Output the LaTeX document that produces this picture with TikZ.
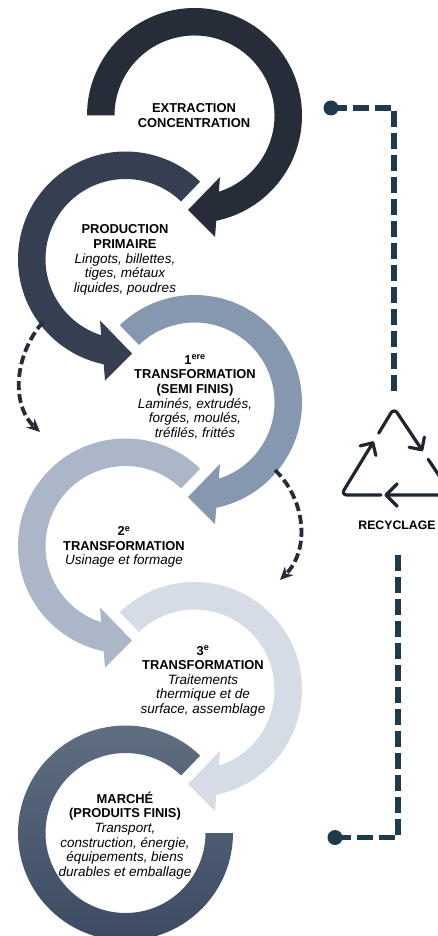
\documentclass[tikz,border=0pt]{standalone}
\usepackage{fontspec}
\setmainfont{Liberation Sans}
\usetikzlibrary{arrows.meta,calc}
\definecolor{cA}{HTML}{262C38}
\definecolor{cB}{HTML}{353F51}
\definecolor{cC}{HTML}{8697B0}
\definecolor{cD}{HTML}{ABB7C9}
\definecolor{cE}{HTML}{D5DCE6}
\definecolor{cFtop}{HTML}{627083}
\definecolor{cFbot}{HTML}{3A4861}
\definecolor{cRec}{HTML}{1F3A4A}
\definecolor{cIcon}{HTML}{1E262F}
\newcommand\myB[1]{{\fontsize{12.9}{14.6}\selectfont\bfseries #1}}
\newcommand\myI[1]{{\fontsize{13.5}{14.6}\selectfont\itshape #1}}
% right ring: clockwise from start angle #4, arrow at lower right
\newcommand\myringR[4]{%
  \fill[#3, shift={(#1,-#2)}] (#4:107.5) arc[start angle=#4, end angle=-78.3, radius=107.5]
    -- (20.5,-121.5) -- (-6.5,-94.5) -- (25.5,-61.5) -- (-72.3:80)
    arc[start angle=-72.3, end angle=#4, radius=80] -- cycle;}
% left ring: counter-clockwise from start angle #4, arrow at lower left
\newcommand\myringL[4]{%
  \fill[#3, shift={(#1,-#2)}] (#4:107.5) arc[start angle=#4, end angle=258.3, radius=107.5]
    -- (-20.5,-121.5) -- (6.5,-94.5) -- (-25.5,-61.5) -- (252.3:80)
    arc[start angle=252.3, end angle=#4, radius=80] -- cycle;}
\tikzset{
  txt/.style={align=center, inner sep=0pt, font=\fontsize{12.9}{14.6}\selectfont},
  dasharrow/.style={draw=cA, line width=3.8pt, dash pattern=on 9pt off 4pt,
    -{Stealth[length=13pt,width=12pt]}},
  recpath/.style={draw=cRec, line width=5.5pt, dash pattern=on 16pt off 6pt},
  icon/.style={draw=cIcon, line width=3.2pt, line cap=round, line join=round}
}
\begin{document}
\begin{tikzpicture}[x=1pt,y=1pt]
\useasboundingbox (0,0) rectangle (438,-936);
\clip (0,0) rectangle (438,-936);
\fill[white] (0,0) rectangle (438,-936);

% rings
\myringR{194.5}{115.5}{cA}{180}
\myringL{125.5}{259}{cB}{46}
\myringR{194.5}{402.5}{cC}{134}
\myringL{125.5}{546}{cD}{46}
\myringR{194.5}{689.5}{cE}{134}
\shade[top color=cFtop, bottom color=cFbot, shift={(125.5,-833)}]
  (46:107.5) arc[start angle=46, end angle=360, radius=107.5]
  -- (0:80) arc[start angle=360, end angle=46, radius=80] -- cycle;

% texts
\node[txt] (t1) at (194,-115.5) {\myB{EXTRACTION}\\\myB{CONCENTRATION}};
\node[txt] (t2) at (125,-260) {\myB{PRODUCTION}\\\myB{PRIMAIRE}\\\myI{Lingots, billettes,}\\\myI{tiges, métaux}\\\myI{liquides, poudres}};
\node[txt] (t3) at (195,-397) {\myB{1\textsuperscript{ere}}\\\myB{TRANSFORMATION}\\\myB{(SEMI FINIS)}\\\myI{Laminés, extrudés,}\\\myI{forgés, moulés,}\\\myI{tréfilés, frittés}};
\node[txt] (t4) at (124,-547) {\myB{2\textsuperscript{e}}\\\myB{TRANSFORMATION}\\\myI{Usinage et formage}};
\node[txt] (t5) at (203,-681) {\myB{3\textsuperscript{e}}\\\myB{TRANSFORMATION}\\\myI{Traitements}\\\myI{thermique et de}\\\myI{surface, assemblage}};
\node[txt] (t6) at (125,-835.5) {\myB{MARCHÉ}\\\myB{(PRODUITS FINIS)}\\\myI{Transport,}\\\myI{construction, énergie,}\\\myI{équipements, biens}\\\myI{durables et emballage}};

% dashed curved arrows
\coordinate (d1s) at (43,-322);
\coordinate (d1e) at (40,-432);
\draw[dasharrow] (d1s) .. controls (14,-355) and (11,-405) .. (d1e);
\coordinate (d2s) at (275,-470);
\coordinate (d2e) at (280,-580);
\draw[dasharrow] (d2s) .. controls (306,-500) and (310,-550) .. (d2e);

% recycling path
\coordinate (dotA) at (331,-108);
\coordinate (cornA) at (394,-108);
\coordinate (endA) at (394,-393);
\fill[cRec] (dotA) circle (7.5);
\draw[recpath] (dotA) -- (cornA) -- (endA);
\coordinate (dotB) at (335,-837.5);
\coordinate (cornB) at (398,-837.5);
\coordinate (endB) at (398,-552);
\fill[cRec] (dotB) circle (7.5);
\draw[recpath] (dotB) -- (cornB) -- (endB);

% recycle icon
\coordinate (T) at (394,-408);
\coordinate (BL) at (341,-495);
\coordinate (BR) at (452,-495);
\coordinate (a0) at ($(BL)!0.6!(T)$);
\coordinate (b0) at ($(BL)!0.71!(T)$);
\coordinate (b1) at ($(T)!0.48!(BR)$);
\coordinate (c0) at ($(T)!0.59!(BR)$);
\coordinate (c1) at (386,-495);
\coordinate (a00) at (381,-495);
\draw[icon, rounded corners=6pt] (a00) -- (BL) -- (a0);
\draw[icon, rounded corners=6pt] (b0) -- (T) -- (b1);
\draw[icon, rounded corners=6pt] (c0) -- (BR) -- (c1);
% chevrons
\draw[icon] ($(a0)+({238.6+45}:13)$) -- (a0) -- ($(a0)+({238.6-45}:13)$);
\draw[icon] ($(b1)+({123.7+45}:13)$) -- (b1) -- ($(b1)+({123.7-45}:13)$);
\draw[icon] ($(c1)+(45:16)$) -- (c1) -- ($(c1)+(-45:16)$);
\node[txt, font=\fontsize{12.3}{14}\selectfont\bfseries] (rec) at (397,-525) {RECYCLAGE};
\end{tikzpicture}
\end{document}
